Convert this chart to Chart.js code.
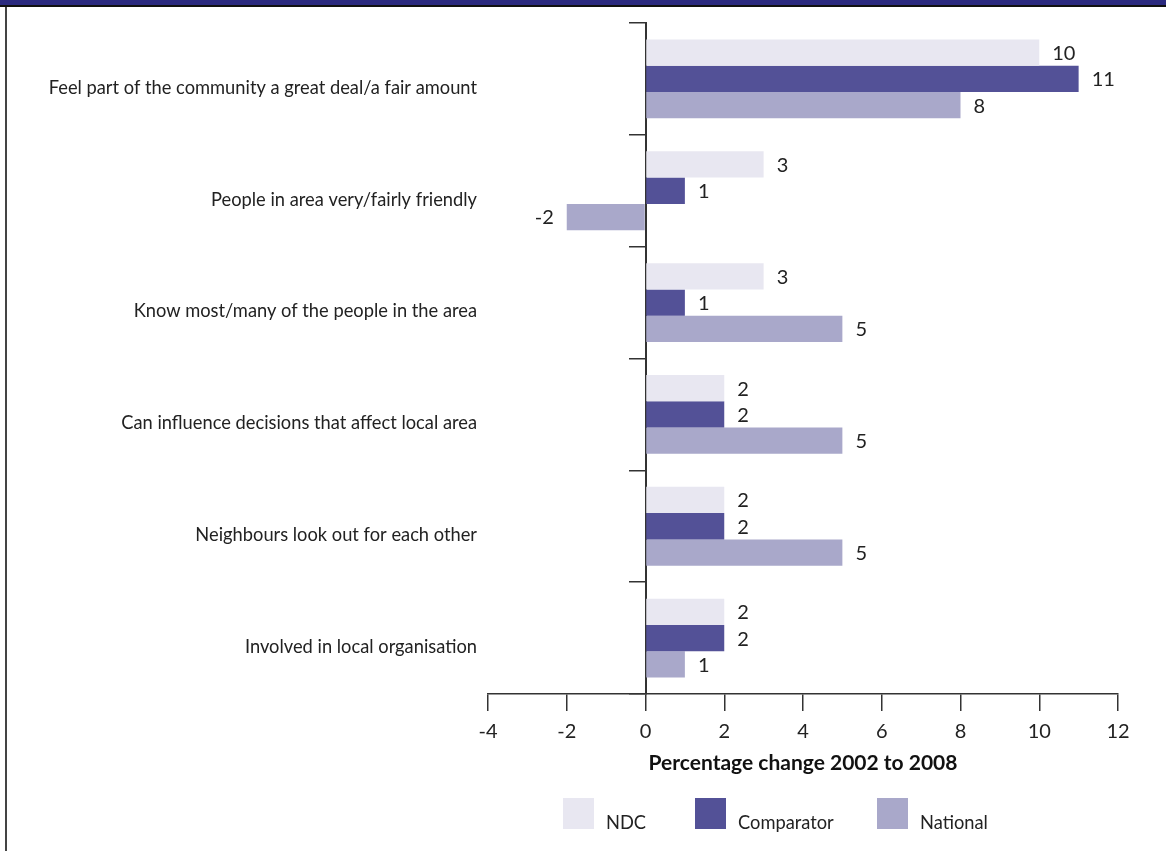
<!DOCTYPE html>
<html>
<head>
<meta charset="utf-8">
<title>Percentage change 2002 to 2008</title>
<script src="https://cdn.jsdelivr.net/npm/chart.js@4.4.1/dist/chart.umd.min.js"></script>
<style>
  html, body { margin: 0; padding: 0; background: #fff; }
  #wrap { position: relative; width: 1166px; height: 851px; overflow: hidden; background: #fff; }
  #chart-box { position: absolute; left: 0; top: 0; width: 1166px; height: 851px; }
  #topband { position: absolute; left: 0; top: 0; width: 1166px; height: 5px; background: #2b2a7f; border-bottom: 2px solid #111; }
  #leftrule { position: absolute; left: 5px; top: 7px; width: 2px; height: 844px; background: #444; }
  #legend { position: absolute; left: 563px; top: 798px; display: flex; font-family: Lato, sans-serif; font-size: 18.3px; color: #222; }
  .legend-item { display: flex; align-items: baseline; }
  .legend-item:nth-child(1) { width: 132px; }
  .legend-item:nth-child(2) { width: 182px; }
  .legend-swatch { width: 31px; height: 31px; margin-right: 12px; }
</style>
</head>
<body>
<div id="wrap">
  <div id="chart-box"><canvas id="change-chart"></canvas></div>
  <div id="topband"></div>
  <div id="leftrule"></div>
  <div id="legend"></div>
</div>
<script>
// Chart data
const categories = [
  'Feel part of the community a great deal/a fair amount',
  'People in area very/fairly friendly',
  'Know most/many of the people in the area',
  'Can influence decisions that affect local area',
  'Neighbours look out for each other',
  'Involved in local organisation'
];
const ndcValues = [10, 3, 3, 2, 2, 2];
const comparatorValues = [11, 1, 1, 2, 2, 2];
const nationalValues = [8, -2, 5, 5, 5, 1];
const seriesNames = ['NDC', 'Comparator', 'National'];
const seriesColors = ['#e8e7f1', '#535197', '#a9a8ca'];
const xMin = -4;
const xMax = 12;
const xStep = 2;
const axisTitle = 'Percentage change 2002 to 2008';

const FONT = 'Lato, sans-serif';
const INK = '#222';
const AXIS = '#333';

// Value labels at the end of each bar
const barValueLabels = {
  id: 'barValueLabels',
  afterDatasetsDraw(chart) {
    const ctx = chart.ctx;
    ctx.save();
    ctx.font = '20px ' + FONT;
    ctx.fillStyle = INK;
    ctx.textBaseline = 'middle';
    chart.data.datasets.forEach((ds, i) => {
      chart.getDatasetMeta(i).data.forEach((bar, j) => {
        const v = ds.data[j];
        if (v >= 0) {
          ctx.textAlign = 'left';
          ctx.fillText(String(v), bar.x + 13, bar.y + 1);
        } else {
          ctx.textAlign = 'right';
          ctx.fillText(String(v), bar.x - 13, bar.y + 1);
        }
      });
    });
    ctx.restore();
  }
};

function renderLegend() {
  const box = document.getElementById('legend');
  seriesNames.forEach((name, i) => {
    const item = document.createElement('div');
    item.className = 'legend-item';
    item.innerHTML = `<span class="legend-swatch" style="background:${seriesColors[i]}"></span><span>${name}</span>`;
    box.appendChild(item);
  });
}

function drawChart() {
  const ctx = document.getElementById('change-chart').getContext('2d');
  const values = [ndcValues, comparatorValues, nationalValues];

  new Chart(ctx, {
    type: 'bar',
    data: {
      labels: categories,
      datasets: seriesNames.map((name, i) => ({
        label: name,
        data: values[i],
        backgroundColor: seriesColors[i],
        borderWidth: 0,
        yAxisID: 'y',
        categoryPercentage: 0.705,
        barPercentage: 1.0
      }))
    },
    options: {
      indexAxis: 'y',
      animation: false,
      responsive: true,
      maintainAspectRatio: false,
      layout: { padding: { top: 23, right: 48, bottom: 0, left: 0 } },
      plugins: {
        legend: { display: false },
        tooltip: { enabled: false }
      },
      scales: {
        x: {
          min: xMin,
          max: xMax,
          ticks: { stepSize: xStep, color: INK, font: { family: FONT, size: 20 }, padding: 9 },
          grid: { drawOnChartArea: false, drawTicks: true, tickLength: 17, color: AXIS, lineWidth: 1.5 },
          border: { color: AXIS, width: 1.5 },
          title: {
            display: true,
            text: axisTitle,
            color: '#111',
            font: { family: FONT, size: 21, weight: 'bold' },
            padding: { top: 0, bottom: 75 }
          },
          afterFit: (scale) => { scale.height = 157; }
        },
        y: {
          grid: { display: false },
          border: { display: false },
          ticks: { color: INK, font: { family: FONT, size: 18.3 }, padding: 3, labelOffset: 9 },
          afterFit: (scale) => { scale.width = 488; }
        },
        yZero: {
          type: 'category',
          axis: 'y',
          labels: categories,
          offset: true,
          position: { x: 0 },
          grid: { drawOnChartArea: false, drawTicks: true, tickLength: 16, color: AXIS, lineWidth: 1.5, offset: true },
          border: { color: AXIS, width: 2 },
          ticks: { display: false }
        }
      }
    },
    plugins: [barValueLabels]
  });
}

window.addEventListener('DOMContentLoaded', () => {
  renderLegend();
  document.fonts.ready.then(drawChart);
});
</script>
</body>
</html>
